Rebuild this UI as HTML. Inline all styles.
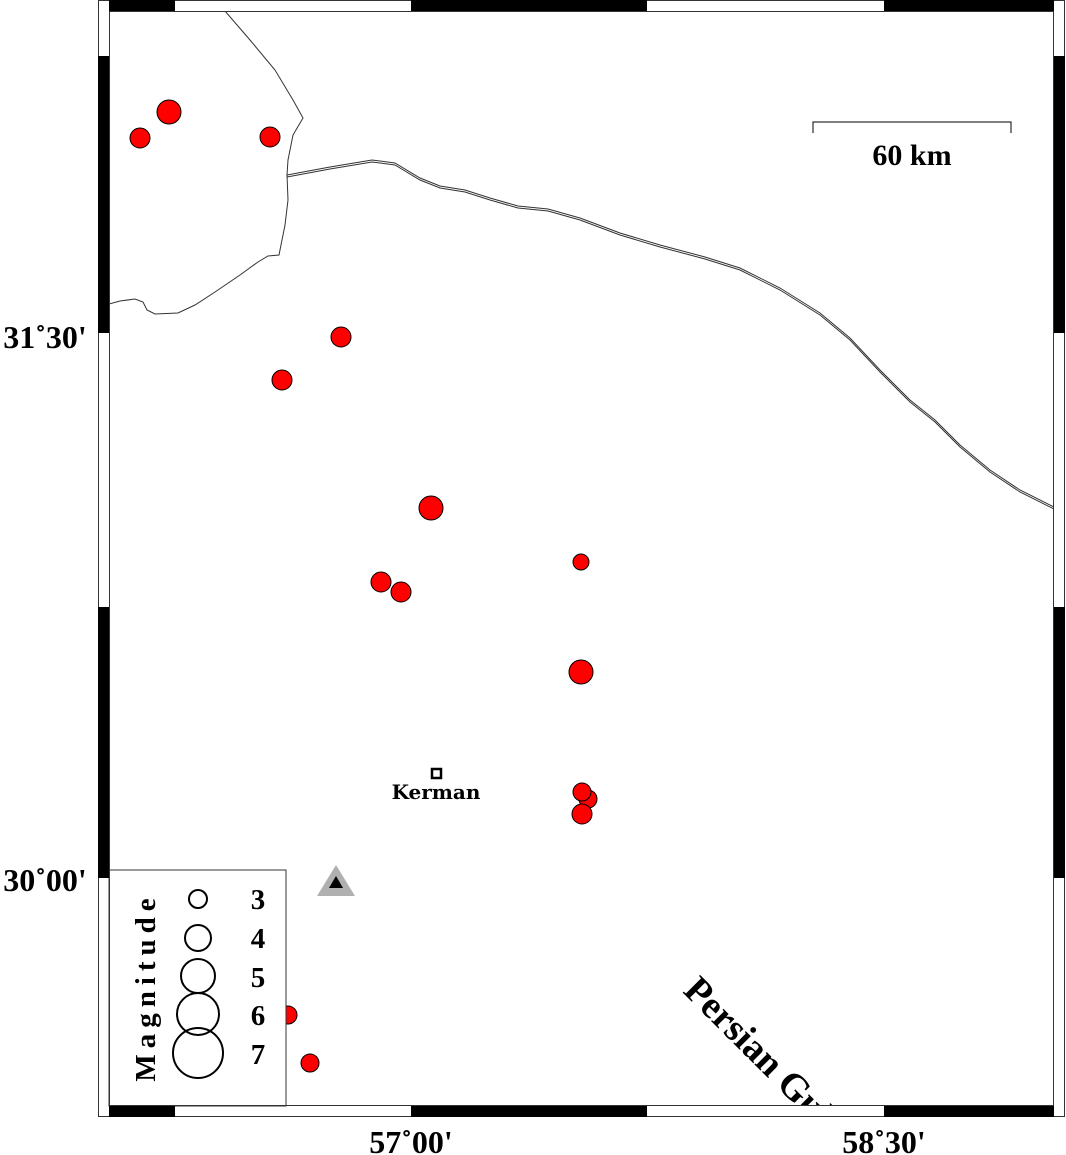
<!DOCTYPE html>
<html><head><meta charset="utf-8"><style>
html,body{margin:0;padding:0;background:#fff;}
svg{display:block;}
.s{font-family:"Liberation Serif","Times New Roman",serif;font-weight:bold;}
.k{font-family:"DejaVu Serif",serif;font-weight:bold;}
</style></head><body>
<svg width="1066" height="1155" viewBox="0 0 1066 1155" xmlns="http://www.w3.org/2000/svg">
<defs><clipPath id="c"><rect x="109" y="11" width="945" height="1095"/></clipPath></defs>
<rect width="1066" height="1155" fill="#fff"/>
<g clip-path="url(#c)" fill="none" stroke="#333" stroke-width="1">
<path d="M225,11 L250,40 L275,70 L293,100 L303,118 L293,135 L288,160 L287,175 L288,200 L285,225 L280,250 L279,255 L268,256 L258,262 L240,275 L215,292 L195,305 L178,313 L155,314 L147,310 L143,302 L135,299 L120,301 L109,304"/>
<path d="M287,175 L330,167 L372,160 L395,163 L420,178 L440,186 L465,190 L490,198 L518,206 L548,209 L580,218 L620,233 L660,245 L705,257 L740,268 L780,288 L820,313 L850,338 L880,370 L910,400 L935,420 L960,445 L990,470 L1020,490 L1054,507"/>
<path d="M287,177 L330,169 L372,162 L395,165 L420,180 L440,188 L465,192 L490,200 L518,208 L548,211 L580,220 L620,235 L660,247 L705,259 L740,270 L780,290 L820,315 L850,340 L880,372 L910,402 L935,422 L960,447 L990,472 L1020,492 L1054,509"/>
</g>
<g fill="#ff0000" stroke="#000" stroke-width="1">
<circle cx="169" cy="112" r="12"/><circle cx="140" cy="138" r="10"/><circle cx="270" cy="137" r="10"/>
<circle cx="341" cy="337" r="10"/><circle cx="282" cy="380" r="10"/><circle cx="431" cy="508" r="12"/>
<circle cx="381" cy="582" r="10"/><circle cx="401" cy="592" r="10"/><circle cx="581" cy="562" r="8"/>
<circle cx="581" cy="672" r="12"/><circle cx="588" cy="799" r="9"/><circle cx="582" cy="792" r="9"/>
<circle cx="582" cy="814" r="10"/><circle cx="288" cy="1015" r="9"/><circle cx="310" cy="1063" r="9"/>
</g>
<polygon points="336,865 355,896 317,896" fill="#b0b0b0"/>
<polygon points="336,876 343,888 329,888" fill="#000"/>
<rect x="432" y="769" width="9" height="9" fill="#fff" stroke="#000" stroke-width="2.5"/>
<text x="436" y="799" class="k" font-size="20" text-anchor="middle">Kerman</text>
<g clip-path="url(#c)"><text x="0" y="0" transform="translate(682,992) rotate(45)" class="s" font-size="38">Persian Gulf</text></g>
<path d="M813,133 V122 H1011 V133" fill="none" stroke="#000" stroke-width="1"/>
<text x="912" y="165" class="s" font-size="30" text-anchor="middle">60 km</text>
<rect x="109" y="870" width="177" height="236" fill="#fff" stroke="#333" stroke-width="1"/>
<g fill="none" stroke="#000" stroke-width="2">
<circle cx="198" cy="899" r="9"/><circle cx="198" cy="938" r="13"/><circle cx="198" cy="976" r="17"/>
<circle cx="198" cy="1014" r="21"/><circle cx="198" cy="1053" r="25"/>
</g>
<g class="s" font-size="29" text-anchor="middle">
<text x="258" y="909">3</text><text x="258" y="948">4</text><text x="258" y="987">5</text><text x="258" y="1025">6</text><text x="258" y="1064">7</text>
</g>
<text transform="translate(155,987) rotate(-90)" class="s" font-size="29" text-anchor="middle" letter-spacing="6">Magnitude</text>
<rect x="98.5" y="0.5" width="966" height="1116" fill="none" stroke="#333"/>
<rect x="109.5" y="11.5" width="944" height="1094" fill="none" stroke="#333"/>
<g fill="#000">
<rect x="109" y="0" width="66" height="11"/><rect x="411" y="0" width="236" height="11"/><rect x="884" y="0" width="170" height="11"/>
<rect x="109" y="1106" width="66" height="11"/><rect x="411" y="1106" width="236" height="11"/><rect x="884" y="1106" width="170" height="11"/>
<rect x="98" y="56" width="11" height="277"/><rect x="98" y="607" width="11" height="271"/>
<rect x="1054" y="56" width="11" height="277"/><rect x="1054" y="607" width="11" height="271"/>
</g>
<g class="s" font-size="32">
<text x="45" y="348" text-anchor="middle">31˚30'</text>
<text x="45" y="891" text-anchor="middle">30˚00'</text>
<text x="411" y="1153" text-anchor="middle">57˚00'</text>
<text x="884" y="1153" text-anchor="middle">58˚30'</text>
</g>
</svg>
</body></html>
